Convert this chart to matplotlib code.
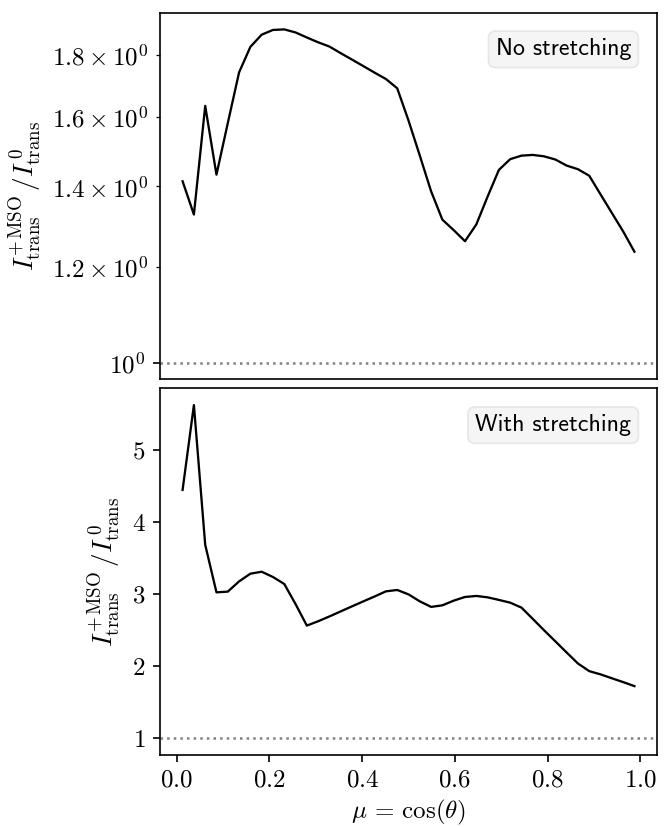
import matplotlib
matplotlib.use("Agg")
import matplotlib.pyplot as plt

plt.rcParams["font.family"] = "serif"
plt.rcParams["font.serif"] = ["cmr10"]
plt.rcParams["mathtext.fontset"] = "cm"
plt.rcParams["axes.formatter.use_mathtext"] = True
plt.rcParams["axes.unicode_minus"] = False
plt.rcParams["font.size"] = 12
plt.rcParams["axes.labelsize"] = 13

mu = [0.0125, 0.0369, 0.0613, 0.0856, 0.1100, 0.1344, 0.1588, 0.1831, 0.2075,
      0.2319, 0.2563, 0.2806, 0.3050, 0.3294, 0.3538, 0.3781, 0.4025, 0.4269,
      0.4513, 0.4756, 0.5000, 0.5244, 0.5488, 0.5731, 0.5975, 0.6219, 0.6463,
      0.6706, 0.6950, 0.7194, 0.7438, 0.7681, 0.7925, 0.8169, 0.8413, 0.8656,
      0.8900, 0.9144, 0.9388, 0.9631, 0.9875]

ratio_no_stretch = [1.414, 1.327, 1.633, 1.432, 1.580, 1.741, 1.828, 1.871, 1.888,
                    1.890, 1.879, 1.861, 1.844, 1.829, 1.806, 1.784, 1.762, 1.740,
                    1.719, 1.689, 1.588, 1.485, 1.387, 1.314, 1.288, 1.261, 1.302,
                    1.373, 1.445, 1.475, 1.485, 1.487, 1.483, 1.474, 1.457, 1.447,
                    1.429, 1.379, 1.331, 1.285, 1.236]

ratio_stretch = [4.446, 5.623, 3.685, 3.025, 3.035, 3.177, 3.284, 3.311, 3.238,
                 3.141, 2.862, 2.564, 2.624, 2.691, 2.761, 2.831, 2.900, 2.968,
                 3.039, 3.058, 2.997, 2.900, 2.823, 2.845, 2.910, 2.961, 2.975,
                 2.956, 2.920, 2.882, 2.813, 2.657, 2.499, 2.345, 2.190, 2.038,
                 1.932, 1.887, 1.833, 1.780, 1.724]

panels = [(ratio_no_stretch, "No stretching", True),
          (ratio_stretch, "With stretching", False)]

ylabel = r"$I^{+\,\rm MSO}_{\rm trans}\,/I^{\,0}_{\rm trans}$"

fig, axes = plt.subplots(2, 1, figsize=(665 / 150, 827 / 150), dpi=150, sharex=True)
fig.subplots_adjust(left=0.2406, right=0.988, top=0.9846, bottom=0.0871, hspace=0.025)

for ax, (vals, name, logy) in zip(axes, panels):
    ax.plot(mu, vals, color="k", lw=1.1)
    ax.axhline(1.0, color="gray", ls=":", lw=1.2)
    if logy:
        ax.set_yscale("log")
    ax.set_ylabel(ylabel)
    ax.text(0.948, 0.93, name, transform=ax.transAxes, ha="right", va="top",
            family="cmss10", fontsize=11.5,
            bbox=dict(boxstyle="round,pad=0.3", fc="#f5f5f5", ec="#e6e6e6", lw=0.8))

axes[0].tick_params(axis="x", bottom=False)
axes[1].set_xlabel(r"$\mu\,=\,\cos(\theta)$", fontsize=12, labelpad=3)

fig.savefig("out.png", dpi=150)
